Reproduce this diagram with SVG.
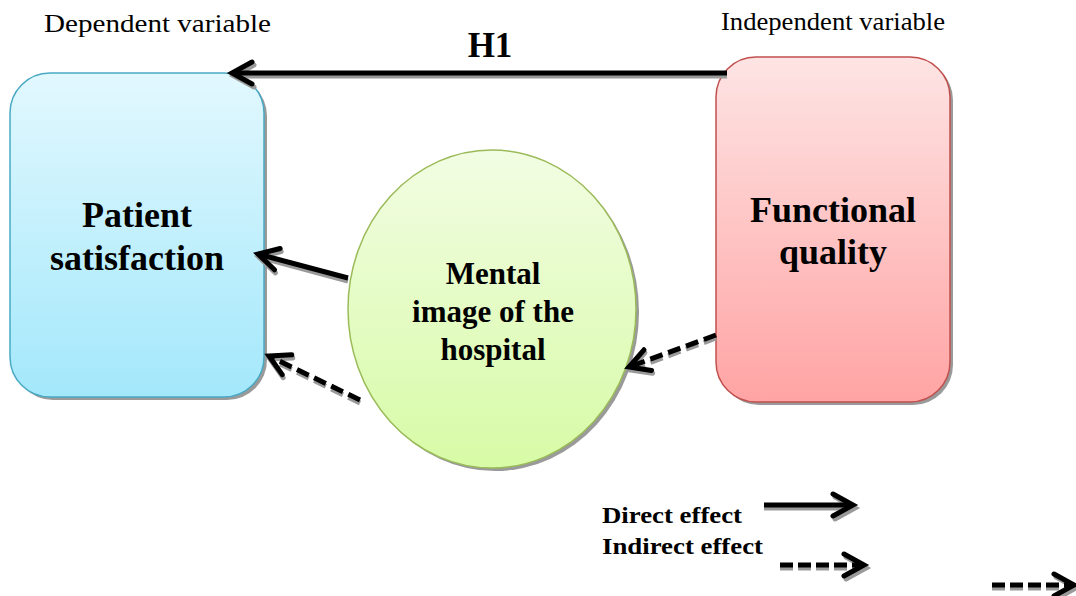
<svg xmlns="http://www.w3.org/2000/svg" width="1076" height="596" viewBox="0 0 1076 596">
<style>
.t{font-family:"Liberation Serif","Times New Roman",serif;fill:#000}
.b{font-weight:bold}
.ln{fill:none;stroke:#000;stroke-width:5}
.sh{fill:none;stroke:#9a9a9a;stroke-width:5}
.d{stroke-dasharray:13 6}
.ld{stroke-dasharray:13 5}
</style>
<defs>
<linearGradient id="gb" x1="0" y1="0" x2="0" y2="1"><stop offset="0" stop-color="#e2f8fe"/><stop offset="1" stop-color="#a3e8fb"/></linearGradient>
<linearGradient id="gr" x1="0" y1="0" x2="0" y2="1"><stop offset="0" stop-color="#fee4e4"/><stop offset="1" stop-color="#ffa4a4"/></linearGradient>
<linearGradient id="gg" x1="0" y1="0" x2="0" y2="1"><stop offset="0" stop-color="#f2fde3"/><stop offset="1" stop-color="#d7fba6"/></linearGradient>
<marker id="ah" markerUnits="userSpaceOnUse" viewBox="-26 -16 32 32" markerWidth="32" markerHeight="32" refX="0" refY="0" orient="auto" overflow="visible">
<path d="M-20,-11 L0,0 L-20,11" fill="none" stroke="#000" stroke-width="5" stroke-linecap="round"/>
</marker>
<marker id="ahs" markerUnits="userSpaceOnUse" viewBox="-26 -16 32 32" markerWidth="32" markerHeight="32" refX="0" refY="0" orient="auto" overflow="visible">
<path d="M-20,-11 L0,0 L-20,11" fill="none" stroke="#9a9a9a" stroke-width="5" stroke-linecap="round"/>
</marker>
</defs>
<rect width="1076" height="596" fill="#fff"/>

<text class="t" x="44" y="32" font-size="26" textLength="227" lengthAdjust="spacingAndGlyphs">Dependent variable</text>
<text class="t" x="721" y="30" font-size="25" textLength="224" lengthAdjust="spacingAndGlyphs">Independent variable</text>
<text class="t b" x="490" y="57" font-size="35" text-anchor="middle">H1</text>

<g id="patient-satisfaction">
<rect x="13" y="76" width="254" height="324" rx="40" fill="#9a9a9a"/>
<rect x="10" y="73" width="254" height="324" rx="40" fill="url(#gb)" stroke="#4aa9c4" stroke-width="1.5"/>
<text class="t b" x="137" y="227" font-size="36" text-anchor="middle">Patient</text>
<text class="t b" x="137" y="270" font-size="36" text-anchor="middle">satisfaction</text>
</g>

<g id="functional-quality">
<rect x="719" y="60" width="234" height="345" rx="40" fill="#9a9a9a"/>
<rect x="716" y="57" width="234" height="345" rx="40" fill="url(#gr)" stroke="#c0504d" stroke-width="1.5"/>
<text class="t b" x="833" y="222" font-size="36" text-anchor="middle">Functional</text>
<text class="t b" x="833" y="264" font-size="36" text-anchor="middle">quality</text>
</g>

<g id="mental-image">
<ellipse cx="495" cy="312" rx="144" ry="159" fill="#9a9a9a"/>
<ellipse cx="492" cy="309" rx="144" ry="159" fill="url(#gg)" stroke="#9bbb59" stroke-width="1.5"/>
<text class="t b" x="493" y="284" font-size="31" text-anchor="middle">Mental</text>
<text class="t b" x="493" y="322" font-size="31" text-anchor="middle">image of the</text>
<text class="t b" x="493" y="360" font-size="31" text-anchor="middle">hospital</text>
</g>

<g id="connectors">
<path class="sh" d="M727,76 L234,76" marker-end="url(#ahs)"/>
<path class="ln" d="M727,73 L232,73" marker-end="url(#ah)"/>
<path class="sh" d="M348,281 L259,257" marker-end="url(#ahs)"/>
<path class="ln" d="M348,278 L258,254" marker-end="url(#ah)"/>
<path class="sh d" d="M360,403 L270,359" marker-end="url(#ahs)"/>
<path class="ln d" d="M360,400 L269,356" marker-end="url(#ah)"/>
<path class="sh d" d="M716,338 L630,370" marker-end="url(#ahs)"/>
<path class="ln d" d="M716,335 L629,367" marker-end="url(#ah)"/>
</g>

<g id="legend">
<text class="t b" x="602" y="523" font-size="24" textLength="140" lengthAdjust="spacingAndGlyphs">Direct effect</text>
<text class="t b" x="602" y="554" font-size="24" textLength="161" lengthAdjust="spacingAndGlyphs">Indirect effect</text>
<path class="sh" d="M764,508 L855,508" marker-end="url(#ahs)"/>
<path class="ln" d="M764,505 L853,505" marker-end="url(#ah)"/>
<path class="sh ld" d="M780,568 L866,568" marker-end="url(#ahs)"/>
<path class="ln ld" d="M780,565 L864,565" marker-end="url(#ah)"/>
<path class="sh ld" d="M992,588 L1076,588" marker-end="url(#ahs)"/>
<path class="ln ld" d="M992,585 L1074,585" marker-end="url(#ah)"/>
</g>
</svg>
